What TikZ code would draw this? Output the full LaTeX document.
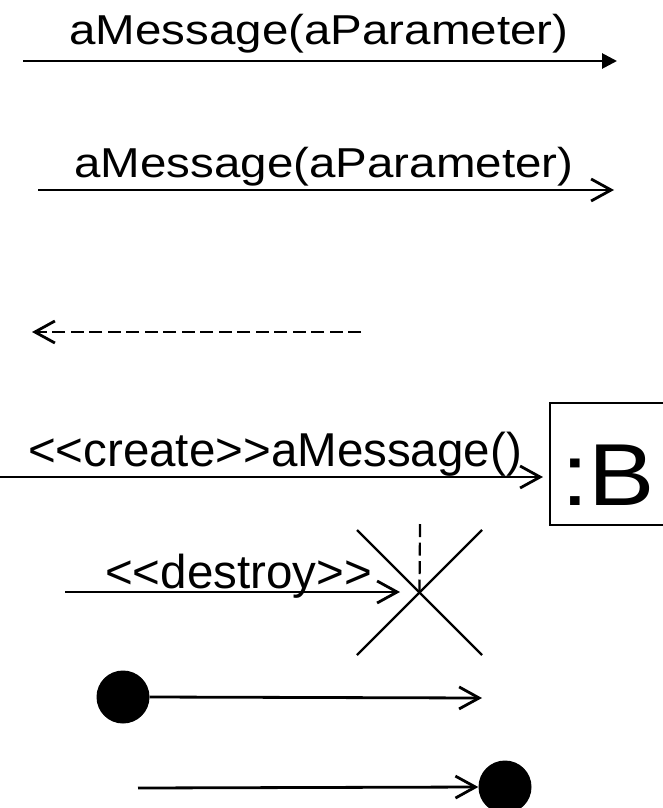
\documentclass[tikz,border=0pt]{standalone}
\usepackage{fontspec}
\usepackage{graphicx}
\setmainfont{Liberation Sans}[Ligatures=TeXOff]
\usetikzlibrary{arrows.meta}
\begin{document}
\begin{tikzpicture}[x=1pt,y=-1pt,
  msgline/.style={line width=2.8pt},
  filledhead/.style={-{Triangle[length=15pt,width=15pt]}},
  openhead/.style={-{Straight Barb[length=20pt,width=22pt]}},
  retline/.style={msgline,dash pattern=on 13pt off 5.5pt},
  lbl/.style={inner sep=0pt,anchor=base,font=\fontsize{47.5}{50}\selectfont},
  dot/.style={circle,fill=black,inner sep=0pt,minimum size=53pt},
  xline/.style={line width=2.2pt}]
\useasboundingbox (0,0) rectangle (662,808);
% row 1: synchronous
\coordinate (s1) at (23,61);
\coordinate (e1) at (617,61);
\node[lbl] (t1) at (319,45) {\scalebox{1}[0.88]{aMessage(aParameter)}};
\draw[msgline,filledhead] (s1) -- (e1);
% row 2: asynchronous
\coordinate (s2) at (38,190);
\coordinate (e2) at (614,190);
\node[lbl] (t2) at (324,177) {\scalebox{1}[0.88]{aMessage(aParameter)}};
\draw[msgline,openhead] (s2) -- (e2);
% row 3: return
\coordinate (s3) at (361,332);
\coordinate (e3) at (32,332);
\draw[retline,openhead] (s3) -- (e3);
% row 4: create
\node[draw,line width=2pt,minimum width=120pt,minimum height=122pt,anchor=north west,inner sep=0pt] (B) at (549,402) {};
\node[inner sep=0pt,anchor=base,font=\fontsize{88}{90}\selectfont] (Bt) at (608,505) {\scalebox{1.13}[1]{:B}};
\coordinate (s4) at (0,477);
\coordinate (e4) at (543,477);
\node[lbl] (t4) at (275,466) {<<create>>aMessage()};
\draw[msgline,openhead] (s4) -- (e4);
% row 5: destroy
\coordinate (xc) at (419.5,592.5);
\coordinate (lt) at (420,524);
\coordinate (x1) at (357,530);
\coordinate (x2) at (482,655);
\coordinate (x3) at (482,530);
\coordinate (x4) at (357,655);
\draw[xline] (x1) -- (x2);
\draw[xline] (x3) -- (x4);
\draw[xline,dash pattern=on 13pt off 5.5pt] (lt) -- (xc);
\coordinate (s5) at (65,592);
\coordinate (e5) at (400,592);
\node[lbl] (t5) at (238.5,588) {<<destroy>>};
\draw[msgline,openhead] (s5) -- (e5);
% row 6: found message
\node[dot] (c1) at (123,697) {};
\coordinate (e6) at (482,698);
\draw[msgline,openhead] (c1.east) -- (e6);
% row 7: lost message
\node[dot] (c2) at (505,787) {};
\coordinate (s7) at (138,788);
\draw[msgline,openhead] (s7) -- (c2.west);
\end{tikzpicture}
\end{document}
